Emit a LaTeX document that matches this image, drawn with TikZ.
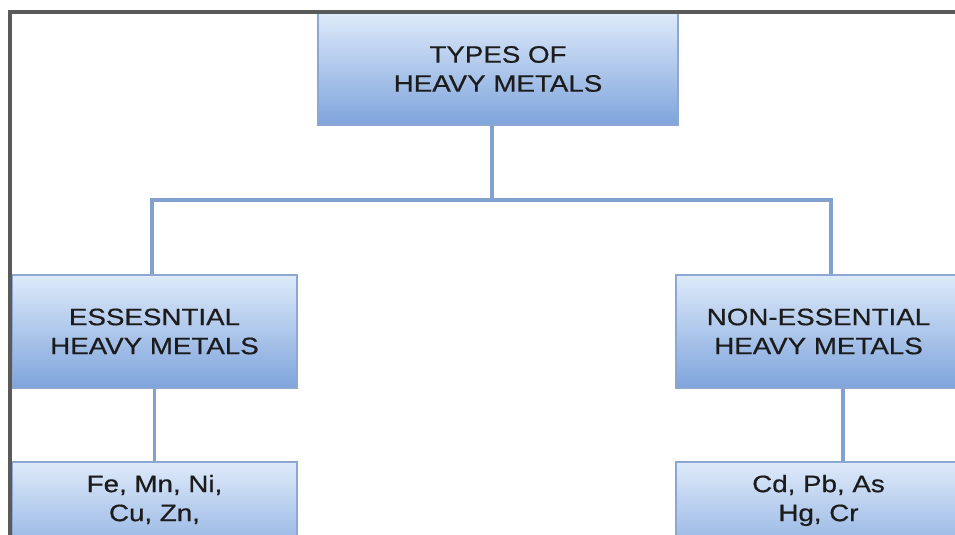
\documentclass[tikz,border=0pt]{standalone}
\usepackage{fontspec}
\setmainfont{Liberation Sans}[FakeStretch=1.17,FakeBold=0.6]
\usetikzlibrary{positioning}
\definecolor{boxtop}{RGB}{222,234,250}
\definecolor{boxbot}{RGB}{126,164,220}
\definecolor{boxline}{RGB}{140,168,210}
\definecolor{linkblue}{RGB}{132,160,204}
\definecolor{framegray}{RGB}{90,90,90}
\definecolor{textgray}{RGB}{28,28,28}
\tikzset{% boxes and connectors
        metalbox/.style={draw=boxline, line width=1.2pt, top color=boxtop, bottom color=boxbot,
          minimum width=285pt, minimum height=113pt, align=center, text=textgray,
          font=\fontsize{23.7}{29}\selectfont},
        listtext/.style={align=center, text=textgray, font=\fontsize{23.7}{29}\selectfont},
        link/.style={draw=linkblue, line width=3.5pt}
        }

\begin{document}
\begin{tikzpicture}[x=1pt,y=-1pt]
 \useasboundingbox (0,0) rectangle (955,535);
 \coordinate (jt) at (492,200);
 \coordinate (jl) at (152,200);
 \coordinate (jr) at (831,200);
 \coordinate (nr) at (843,0);
 % connectors
 \draw [link] (jt |- 0,125) -- (jt);
 \draw [link] (jl |- 0,275) -- (jl) -- (jr) -- (jr |- 0,275);
 \draw [link] (154.5,388) -- (154.5,462);
 \draw [link] (nr |- 0,388) -- (nr |- 0,462);
 % boxes
 \node [metalbox, minimum width=360pt, minimum height=112pt] (types) at (498,69) {TYPES OF\\HEAVY METALS};
 \node [metalbox] (ess) at (154.5,331.5) {ESSESNTIAL\\HEAVY METALS};
 \node [metalbox] (non) at (818.5,331.5) {NON-ESSENTIAL\\HEAVY METALS};
 \node [metalbox] (esslist) at (154.5,518.5) {};
 \node [metalbox] (nonlist) at (818.5,518.5) {};
 \node [listtext, below=10pt of esslist.north] (esstext) {Fe, Mn, Ni,\\Cu, Zn,};
 \node [listtext, below=10pt of nonlist.north] (nontext) {Cd, Pb, As\\Hg, Cr};
 % frame
 \draw [framegray, line width=3.5pt] (10,540) -- (10,12) -- (960,12);
\end{tikzpicture}
\end{document}
